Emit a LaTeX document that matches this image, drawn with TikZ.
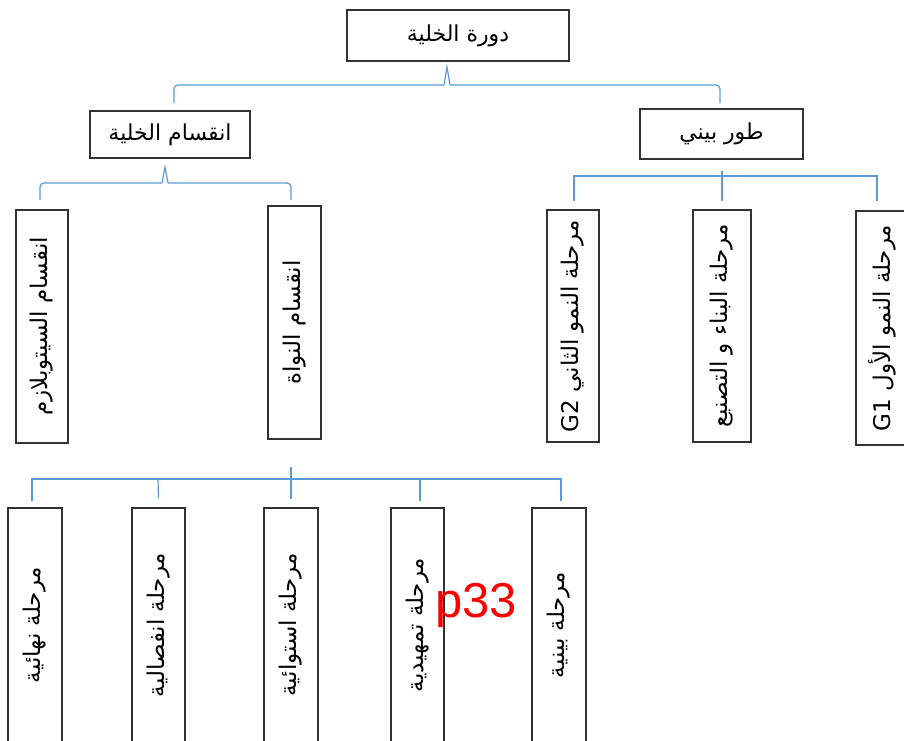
\documentclass[tikz,border=0pt]{standalone}
\usepackage{fontspec}
\setmainfont{Liberation Sans}
\newfontfamily\arabicfont[Script=Arabic]{DejaVu Sans}
\TeXXeTstate=1
\definecolor{linkblue}{RGB}{91,155,213}
\definecolor{boxgray}{RGB}{50,50,50}
\begin{document}
\begin{tikzpicture}[x=1pt,y=-1pt,
  box/.style={draw=boxgray,line width=1.1pt,fill=white,inner sep=0pt,font=\arabicfont\fontsize{22}{26}\selectfont},
  vbox/.style={box,rotate=90,font=\arabicfont\fontsize{23}{27}\selectfont},
  conn/.style={draw=linkblue,line width=1.2pt}]
\useasboundingbox (0,0) rectangle (904,740);
% top level
\node[box,minimum width=222pt,minimum height=51pt] (cycle) at (458,35.5) {\raisebox{5pt}{\beginR دورة الخلية\endR}};
\node[box,minimum width=160pt,minimum height=47pt] (division) at (170,134.5) {\beginR انقسام الخلية\endR};
\node[box,minimum width=163pt,minimum height=50pt] (inter) at (721.5,134) {\raisebox{2pt}{\beginR طور بيني\endR}};
% second level
\node[vbox,minimum width=233pt,minimum height=52pt] (cyto) at (42,326.5) {\beginR انقسام السيتوبلازم\endR};
\node[vbox,minimum width=233pt,minimum height=53pt] (nucleus) at (294.5,322.5) {\beginR انقسام النواة\endR};
\node[vbox,minimum width=232pt,minimum height=52pt] (gtwo) at (573,326) {\beginR مرحلة النمو الثاني \beginL G2\endL\endR};
\node[vbox,minimum width=232pt,minimum height=58pt] (synth) at (722,326) {\beginR مرحلة البناء و التصنيع\endR};
\node[vbox,minimum width=234pt,minimum height=52pt] (gone) at (882,328) {\beginR مرحلة النمو الأول \beginL G1\endL\endR};
% third level
\node[vbox,minimum width=234pt,minimum height=54pt] (telo) at (35,625) {\beginR مرحلة نهائية\endR};
\node[vbox,minimum width=234pt,minimum height=53pt] (ana) at (158.5,625) {\beginR مرحلة انفصالية\endR};
\node[vbox,minimum width=234pt,minimum height=54pt] (meta) at (291,625) {\beginR مرحلة استوائية\endR};
\node[vbox,minimum width=234pt,minimum height=53pt] (pro) at (417.5,625) {\beginR مرحلة تمهيدية\endR};
\node[vbox,minimum width=234pt,minimum height=54pt] (interph) at (559,625) {\beginR مرحلة بينية\endR};
% red label
\node[text=red,font=\fontsize{49}{55}\selectfont,anchor=base,inner sep=0pt] (pagelabel) at (476,617) {p33};
% top brace
\coordinate (tbl) at (174,103);
\coordinate (tbr) at (720,103);
\coordinate (tbp) at (447,67);
\draw[conn,rounded corners=4pt] (tbl) -- (174,85) -- (444,85);
\draw[conn] (444,85) -- (tbp) -- (450,85);
\draw[conn,rounded corners=4pt] (450,85) -- (720,85) -- (tbr);
% left brace
\coordinate (lbl) at (40,200);
\coordinate (lbr) at (291,200);
\coordinate (lbp) at (165,167);
\draw[conn,rounded corners=4pt] (lbl) -- (40,183) -- (162,183);
\draw[conn] (162,183) -- (lbp) -- (168,183);
\draw[conn,rounded corners=4pt] (168,183) -- (291,183) -- (lbr);
% right comb
\coordinate (rcs) at (722,171);
\draw[conn] (rcs) -- ([yshift=8pt]synth.east);
\draw[conn] ([xshift=1pt,yshift=8pt]gtwo.east) -- (574,176) -- (877,176) -- ([xshift=-5pt,yshift=9pt]gone.east);
% bottom comb
\coordinate (bcs) at (291,467);
\draw[conn] (bcs) -- ([yshift=8pt]meta.east);
\draw[conn] ([xshift=-3pt,yshift=6pt]telo.east) -- (32,479) -- (561,479) -- ([xshift=2pt,yshift=6pt]interph.east);
\draw[conn] (158,479) -- ([yshift=9pt]ana.east);
\draw[conn] (420,479) -- ([xshift=2.5pt,yshift=6pt]pro.east);
\end{tikzpicture}
\end{document}
